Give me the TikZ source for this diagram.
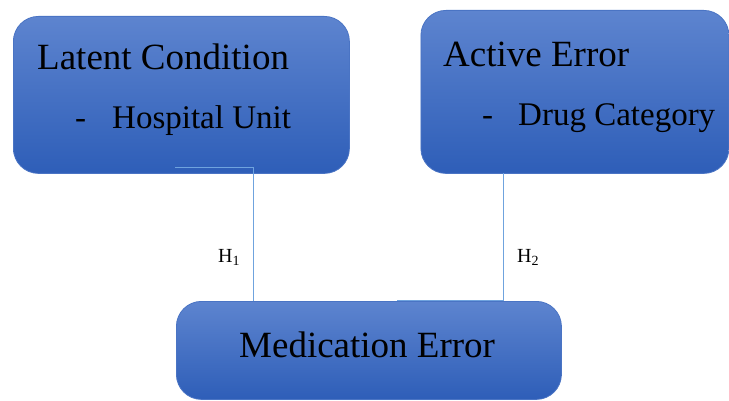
\documentclass[tikz,border=0pt]{standalone}
\usepackage{fontspec}
\setmainfont{Liberation Serif}
\definecolor{boxtop}{HTML}{5D84CF}
\definecolor{boxbottom}{HTML}{2E5EB8}
\definecolor{boxedge}{HTML}{4A74C4}
\definecolor{linkblue}{HTML}{6FA3DE}
\begin{document}
\begin{tikzpicture}[x=1pt,y=-1pt,
	box/.style={rectangle,rounded corners=25pt,draw=boxedge,line width=0.8pt,
		top color=boxtop,bottom color=boxbottom,anchor=north west,inner sep=0pt},
	title/.style={anchor=base west,inner sep=0pt,font=\fontsize{37}{40}\selectfont},
	subtitle/.style={anchor=base west,inner sep=0pt,font=\fontsize{33}{36}\selectfont},
	hyp/.style={anchor=base west,inner sep=0pt,font=\fontsize{20}{22}\selectfont},
	link/.style={draw=linkblue,line width=1pt}]

		\useasboundingbox (0,0) rectangle (729,401);

		% the three boxes
		\node[box,minimum width=336pt,minimum height=157pt] (latent) at (13,16) {};
		\node[box,minimum width=308pt,minimum height=163pt] (active) at (420.5,10) {};
		\node[box,minimum width=385pt,minimum height=98pt] (medication) at (176,301) {};

		% box texts
		\node[title] (latenttxt) at (37,70) {Latent Condition};
		\node[subtitle] (latentdash) at (75,129) {-};
		\node[subtitle] (latentsub) at (112,129) {Hospital Unit};
		\node[title] (activetxt) at (443,67) {Active Error};
		\node[subtitle] (activedash) at (482,126) {-};
		\node[subtitle] (activesub) at (518,126) {Drug Category};
		\node[title] (medtxt) at (239,357) {Medication Error};

		% connectors
		\coordinate (h1start) at (175,168);
		\coordinate (h1end) at (253,301);
		\coordinate (h2start) at (503,173);
		\coordinate (h2end) at (397,300);
		\draw[link] (h1start) -| (h1end);
		\draw[link] (h2start) |- (h2end);

		% hypotheses
		\node[hyp] (h1) at (218,262) {H\textsubscript{1}};
		\node[hyp] (h2) at (517,262) {H\textsubscript{2}};

	\end{tikzpicture}
\end{document}
